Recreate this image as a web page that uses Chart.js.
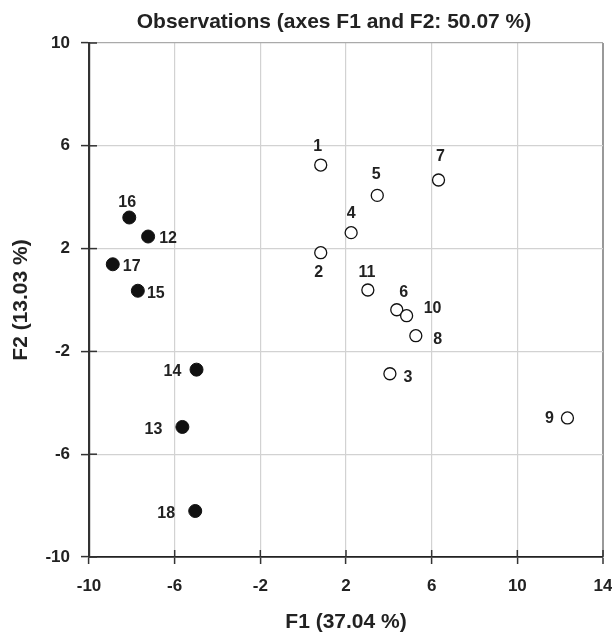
<!DOCTYPE html>
<html>
<head>
<meta charset="utf-8">
<script src="https://cdn.jsdelivr.net/npm/chart.js@4/dist/chart.umd.min.js"></script>
<style>
  body { margin: 0; background: #fff; }
  canvas { display: block; }
</style>
</head>
<body>
<canvas id="grafico" width="612" height="635"></canvas>
<script>
// Observaciones grupo 1 (círculos vacíos)
const etiquetasA = ["1", "2", "3", "4", "5", "6", "7", "8", "9", "10", "11"];
const f1A = [0.82, 0.82, 4.05, 2.24, 3.46, 4.37, 6.32, 5.26, 12.34, 4.83, 3.02];
const f2A = [5.25, 1.84, -2.87, 2.62, 4.07, -0.38, 4.67, -1.39, -4.59, -0.61, 0.39];

// Observaciones grupo 2 (círculos rellenos)
const etiquetasB = ["12", "13", "14", "15", "16", "17", "18"];
const f1B = [-7.24, -5.64, -4.98, -7.72, -8.12, -8.89, -5.04];
const f2B = [2.47, -4.94, -2.71, 0.36, 3.21, 1.39, -8.21];

// Ejes
const ticksF1 = [-10, -6, -2, 2, 6, 10, 14];
const ticksF2 = [-10, -6, -2, 2, 6, 10];

const titulo = "Observations (axes F1 and F2: 50.07 %)";
const tituloX = "F1 (37.04 %)";
const tituloY = "F2 (13.03 %)";

// Posición de cada etiqueta respecto a su punto (px)
const desplazamientos = {
  "1": [-3, -18], "2": [-2, 20], "3": [18, 4], "4": [0, -19], "5": [-1, -21],
  "6": [7, -17], "7": [2, -23], "8": [22, 4], "9": [-18, 1], "10": [26, -7],
  "11": [-1, -17], "12": [20, 2], "13": [-29, 3], "14": [-24, 2], "15": [18, 3],
  "16": [-2, -15], "17": [19, 2], "18": [-29, 3],
};

const fuente = '"Liberation Sans", Arial, sans-serif';
Chart.defaults.font.family = fuente;
Chart.defaults.color = "#222";

const puntosA = f1A.map((x, i) => ({ x: x, y: f2A[i] }));
const puntosB = f1B.map((x, i) => ({ x: x, y: f2B[i] }));

// Plugin: título, marcas interiores y etiquetas de los puntos
const extras = {
  id: "extras",
  afterDraw(chart) {
    const ctx = chart.ctx;
    const sx = chart.scales.x;
    const sy = chart.scales.y;
    const area = chart.chartArea;
    ctx.save();

    // marcas hacia dentro
    ctx.strokeStyle = "#333";
    ctx.lineWidth = 1.5;
    ticksF1.forEach((v) => {
      const px = sx.getPixelForValue(v);
      ctx.beginPath();
      ctx.moveTo(px, area.bottom);
      ctx.lineTo(px, area.bottom - 7);
      ctx.stroke();
    });
    ticksF2.forEach((v) => {
      const py = sy.getPixelForValue(v);
      ctx.beginPath();
      ctx.moveTo(area.left, py);
      ctx.lineTo(area.left + 8, py);
      ctx.stroke();
    });

    // título
    ctx.fillStyle = "#222";
    ctx.font = "bold 21px " + fuente;
    ctx.textAlign = "center";
    ctx.textBaseline = "middle";
    ctx.fillText(titulo, 334, 22);

    // etiquetas de observaciones
    ctx.font = "bold 16px " + fuente;
    const grupos = [etiquetasA, etiquetasB];
    chart.data.datasets.forEach((ds, d) => {
      const meta = chart.getDatasetMeta(d);
      meta.data.forEach((el, i) => {
        const lab = grupos[d][i];
        const off = desplazamientos[lab] || [0, -16];
        ctx.fillText(lab, el.x + off[0], el.y + off[1]);
      });
    });
    ctx.restore();
  },
};

new Chart(document.getElementById("grafico"), {
  type: "scatter",
  data: {
    datasets: [
      {
        label: "Grupo 1",
        data: puntosA,
        pointRadius: 6,
        pointBackgroundColor: "#fff",
        pointBorderColor: "#111",
        pointBorderWidth: 1.3,
      },
      {
        label: "Grupo 2",
        data: puntosB,
        pointRadius: 6.5,
        pointBackgroundColor: "#111",
        pointBorderColor: "#111",
        pointBorderWidth: 1,
      },
    ],
  },
  options: {
    responsive: false,
    animation: false,
    events: [],
    layout: { padding: { top: 43, right: 9, left: 0, bottom: 0 } },
    plugins: {
      legend: { display: false },
      tooltip: { enabled: false },
      title: { display: false },
    },
    scales: {
      x: {
        type: "linear",
        min: -10,
        max: 14,
        afterBuildTicks(scale) {
          scale.ticks = ticksF1.map((v) => ({ value: v }));
        },
        afterFit(scale) {
          scale.height = 78;
          scale.paddingLeft = 0;
          scale.paddingRight = 0;
        },
        ticks: {
          font: { size: 17, weight: "bold" },
          color: "#222",
          padding: 12,
          maxRotation: 0,
        },
        grid: {
          color: (c) => (c.tick && c.tick.value === 14 ? "#999" : "#d2d2d2"),
          lineWidth: (c) => (c.tick && c.tick.value === 14 ? 2 : 1.2),
          tickLength: 7,
          tickColor: "#333",
          tickWidth: 1.5,
        },
        border: { color: "#222", width: 1.8 },
        title: {
          display: true,
          text: tituloX,
          font: { size: 21, weight: "bold" },
          color: "#222",
          padding: { top: 0, bottom: 0 },
        },
      },
      y: {
        type: "linear",
        min: -10,
        max: 10,
        afterBuildTicks(scale) {
          scale.ticks = ticksF2.map((v) => ({ value: v }));
        },
        afterFit(scale) {
          scale.width = 89;
          scale.paddingTop = 0;
          scale.paddingBottom = 0;
        },
        ticks: {
          font: { size: 17, weight: "bold" },
          color: "#222",
          padding: 11,
        },
        grid: {
          color: (c) => (c.tick && c.tick.value === 10 ? "#aaa" : "#d2d2d2"),
          lineWidth: 1.2,
          tickLength: 8,
          tickColor: "#333",
          tickWidth: 1.5,
        },
        border: { color: "#333", width: 2.2 },
        title: {
          display: true,
          text: tituloY,
          font: { size: 21, weight: "bold" },
          color: "#222",
          padding: { top: 9, bottom: 0 },
        },
      },
    },
  },
  plugins: [extras],
});
</script>
</body>
</html>
